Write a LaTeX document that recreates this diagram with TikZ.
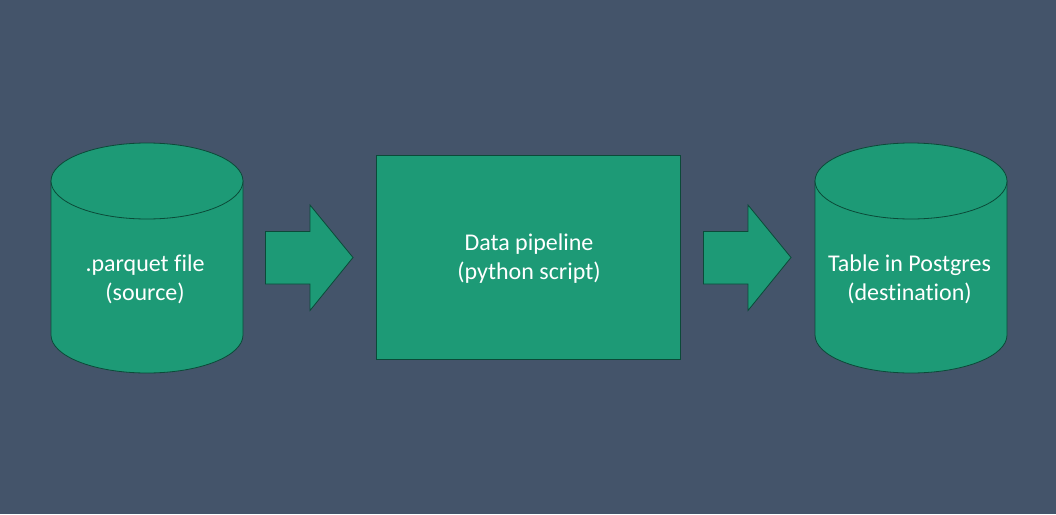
\documentclass[tikz,border=0pt]{standalone}
\usepackage{fontspec}
\setmainfont[Ligatures=CommonOff]{Carlito}
\definecolor{bgc}{HTML}{44546A}
\definecolor{fillc}{HTML}{1D9A76}
\definecolor{linec}{HTML}{0B4A38}
\tikzset{
  x=1pt,y=-1pt,
  shapeline/.style={draw=linec,fill=fillc,line width=0.8pt,line join=miter},
  lbl/.style={text=white,font=\fontsize{24}{29}\selectfont,align=center,inner sep=0pt},
}
\begin{document}
\begin{tikzpicture}
\useasboundingbox (0,0) rectangle (1056,514);
\fill[bgc] (0,0) rectangle (1056,514);
\path[shapeline] (51,181) -- (51,335) .. controls (51,356) and (94,373) .. (147,373) .. controls (200,373) and (243,356) .. (243,335) -- (243,181) -- cycle;
\path[shapeline] (147,181) ellipse[x radius=96,y radius=38];
\path[shapeline] (815,181) -- (815,335) .. controls (815,356) and (858,373) .. (911,373) .. controls (964,373) and (1007,356) .. (1007,335) -- (1007,181) -- cycle;
\path[shapeline] (911,181) ellipse[x radius=96,y radius=38];
\node[shapeline,minimum width=304pt,minimum height=204pt,inner sep=0pt,outer sep=0pt] (pipe) at (528.5,257.5) {};
\path[shapeline] (265.5,231.5) -- (310,231.5) -- (310,205) -- (353,257.5) -- (310,310.5) -- (310,284) -- (265.5,284) -- cycle;
\path[shapeline] (703.5,231.5) -- (748,231.5) -- (748,205) -- (791,257.5) -- (748,310.5) -- (748,284) -- (703.5,284) -- cycle;
\node[lbl] (src) at (145,279) {.parquet file\\(source)};
\node[lbl] (mid) at (529,259) {Data pipeline\\(python script)};
\node[lbl] (dst) at (909.5,279) {Table in Postgres\\(destination)};
\end{tikzpicture}
\end{document}
